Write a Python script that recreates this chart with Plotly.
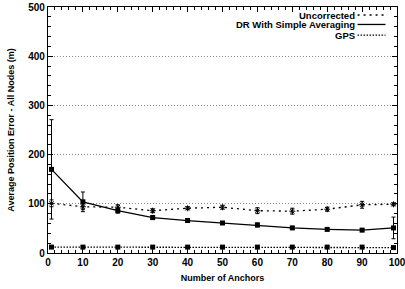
import plotly.graph_objects as go

x_vals = [1, 10, 20, 30, 40, 50, 60, 70, 80, 90, 99]
uncorrected = [101, 94, 93, 86, 91, 93, 86, 85, 89, 98, 99]
uncorrected_err = [7, 6, 5, 4, 3, 4, 6, 6, 4, 7, 3]
dr_avg = [170, 104, 86, 72, 66, 61, 57, 51, 48, 46.5, 51]
dr_err = [101, 20, 5, 4, 4, 3, 4, 3, 3, 3, 22]
gps = [12, 12, 12, 12, 12, 12, 12, 12, 12, 12, 11]

series_names = ["Uncorrected", "DR With Simple Averaging", "GPS"]

FONT = "Liberation Sans"

fig = go.Figure()

fig.add_trace(go.Scatter(
    x=x_vals, y=uncorrected, name=series_names[0], mode="lines+markers",
    line=dict(color="black", width=1.3, dash="2px,4px"),
    marker=dict(symbol="asterisk-open", size=5, color="black", line=dict(width=1, color="black")),
    error_y=dict(type="data", array=uncorrected_err, color="black", thickness=1, width=2),
    showlegend=False, cliponaxis=False,
))
fig.add_trace(go.Scatter(
    x=x_vals, y=dr_avg, name=series_names[1], mode="lines+markers",
    line=dict(color="black", width=1.3),
    marker=dict(symbol="square", size=5, color="black"),
    error_y=dict(type="data", array=dr_err, color="black", thickness=1, width=2),
    showlegend=False, cliponaxis=False,
))
fig.add_trace(go.Scatter(
    x=x_vals, y=gps, name=series_names[2], mode="lines+markers",
    line=dict(color="black", width=1.3, dash="1.5px,1.5px"),
    marker=dict(symbol="square", size=5, color="black"),
    showlegend=False, cliponaxis=False,
))

# legend (gnuplot style: text right-aligned, sample to the right)
leg_y = [0.9675, 0.929, 0.886]
leg_h = [8, 11, 9]
leg_dash = ["2px,4px", "solid", "1.5px,1.5px"]
for name, yy, hh, dsh in zip(series_names, leg_y, leg_h, leg_dash):
    fig.add_annotation(xref="paper", yref="paper", x=0.882, y=yy, text="<b>" + name + "</b>",
                       showarrow=False, xanchor="right", yanchor="middle", height=hh,
                       borderpad=0, font=dict(family=FONT, size=9.5, color="black"))
    fig.add_shape(type="line", xref="paper", yref="paper", x0=0.887, x1=0.967, y0=yy, y1=yy,
                  line=dict(color="black", width=1.3, dash=dsh))

axis_common = dict(
    showline=True, linecolor="black", linewidth=1.3, mirror="allticks",
    ticks="inside", ticklen=5, tickcolor="black", tickwidth=1,
    tickfont=dict(family=FONT, size=10, color="black"),
    zeroline=False, automargin=False, ticklabeloverflow="allow",
    tickprefix="<b>", ticksuffix="</b>",
)

fig.update_xaxes(
    range=[0, 100], tickmode="linear", tick0=0, dtick=10, showgrid=False,
    minor=dict(ticks="inside", ticklen=3, dtick=2, tickcolor="black", showgrid=False),
    title=dict(text="<b>Number of Anchors</b>", font=dict(family=FONT, size=9, color="black"), standoff=7),
    **axis_common,
)
fig.update_yaxes(
    range=[0, 500], tickmode="linear", tick0=0, dtick=100,
    showgrid=True, gridcolor="#888888", griddash="1px,2px", gridwidth=1,
    minor=dict(ticks="inside", ticklen=3, dtick=20, tickcolor="black", showgrid=False),
    title=dict(text="<b>Average Position Error - All Nodes (m)</b>", font=dict(family=FONT, size=9, color="black"), standoff=12),
    **axis_common,
)

fig.update_layout(
    width=405, height=289,
    margin=dict(l=48, r=8, t=7, b=36),
    paper_bgcolor="white", plot_bgcolor="white",
    font=dict(family=FONT, size=10, color="black"),
)

fig.write_html("out.html", config={"displayModeBar": False},
               post_script="document.body.style.margin='0';document.body.style.overflow='hidden';")
